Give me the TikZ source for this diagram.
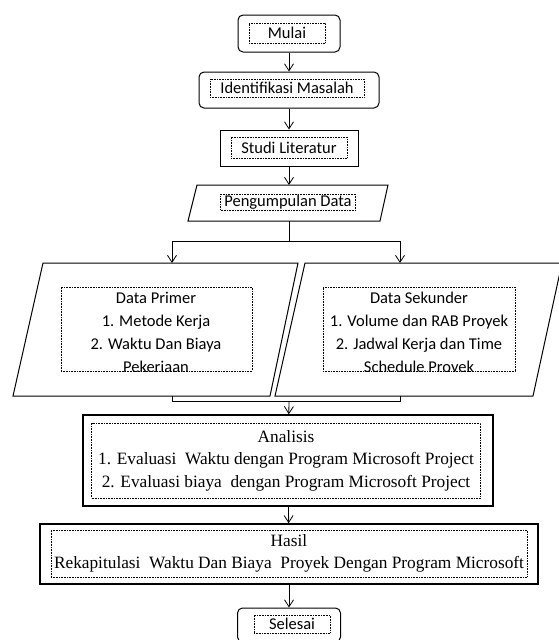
\documentclass[tikz,border=0pt]{standalone}
\usepackage{fontspec}
\setmainfont{Liberation Serif}
\newfontfamily\boxfont{Carlito}
\usetikzlibrary{arrows.meta}

\begin{document}
\begin{tikzpicture}[
		x=1pt, y=-1pt,
		arrow/.style={-{Straight Barb[length=7pt, width=9pt]}, line width=0.8pt},
		terminal/.style={draw, line width=1pt, rounded corners=5pt},
		process/.style={draw, line width=1pt},
		bigprocess/.style={draw, line width=1.6pt},
		io/.style={draw, line width=1pt, line join=miter},
		frame/.style={draw, densely dotted, line width=0.6pt, inner sep=0pt},
		sans text/.style={font=\boxfont\fontsize{16.5}{23}\selectfont, align=center},
		serif text/.style={font=\fontsize{17.3}{22.5}\selectfont, align=center}
		]
		\useasboundingbox (0,0) rectangle (559,640);
		
		% Nodes
		\node[terminal, minimum width=102, minimum height=37] (mulai) at (289,33.5) {};
		\node[frame, sans text, minimum width=76, minimum height=20] (mulai-t) at (287,33) {Mulai};
		
		\node[terminal, minimum width=180, minimum height=36] (identifikasi) at (289,90) {};
		\node[frame, sans text, minimum width=154, minimum height=18] (identifikasi-t) at (287,88) {Identifikasi Masalah};
		
		\node[process, minimum width=138, minimum height=36] (studi) at (289,148) {};
		\node[frame, sans text, minimum width=116, minimum height=21] (studi-t) at (289,147.5) {Studi Literatur};
		
		% Input/output parallelograms
		\draw[io] (197,185) coordinate (pengumpulan-in) -- (388,185) -- (380,221) -- (188,221) -- cycle;
		\node[frame, sans text, minimum width=135, minimum height=16] (pengumpulan-t) at (288,202) {Pengumpulan Data};
		
		\draw[io] (43,263) -- (298,263) -- (270,396) -- (13,396) -- cycle;
		\node[frame, minimum width=191, minimum height=84] (primer-t) at (156.5,329) {};
		\begin{scope}
			\clip (primer-t.north west) rectangle (primer-t.south east);
			\node[sans text] (primer-isi) at (156,334) {Data Primer\\1. Metode Kerja\\2. Waktu Dan Biaya\\Pekerjaan};
		\end{scope}
		
		\draw[io] (305,263) -- (562,263) -- (533,396) -- (275,396) -- cycle;
		\node[frame, minimum width=192, minimum height=84] (sekunder-t) at (419,329) {};
		\begin{scope}
			\clip (sekunder-t.north west) rectangle (sekunder-t.south east);
			\node[sans text] (sekunder-isi) at (419,334) {Data Sekunder\\1. Volume dan RAB Proyek\\2. Jadwal Kerja dan Time\\Schedule Proyek};
		\end{scope}
		
		\node[bigprocess, minimum width=410, minimum height=91] (analisis) at (288,460.5) {};
		\node[frame, serif text, minimum width=389, minimum height=75] (analisis-t) at (286,460.5)
			{Analisis\\1. Evaluasi\ \ Waktu dengan Program Microsoft Project\\2. Evaluasi biaya\ \ dengan Program Microsoft Project};
		
		\node[bigprocess, minimum width=498, minimum height=60] (hasil) at (289,554) {};
		\node[frame, serif text, minimum width=476, minimum height=47] (hasil-t) at (289,553.5)
			{Hasil\\Rekapitulasi\ \ Waktu Dan Biaya\ \ Proyek Dengan Program Microsoft};
		
		\node[terminal, minimum width=103, minimum height=34] (selesai) at (289,625) {};
		\node[frame, sans text, minimum width=76, minimum height=18] (selesai-t) at (292,624) {Selesai};
		
		% Split and join points
		\coordinate (pengumpulan-top) at (289,185);
		\coordinate (pengumpulan-bot) at (289,221);
		\coordinate (split) at (289,241);
		\coordinate (primer-in) at (172,263);
		\coordinate (sekunder-in) at (400,263);
		\coordinate (primer-out) at (172,396);
		\coordinate (sekunder-out) at (400,396);
		\coordinate (join) at (289,401);
		
		% Arrows
		\draw[arrow] (mulai) -- (identifikasi);
		\draw[arrow] (identifikasi) -- (studi);
		\draw[arrow] (studi) -- (pengumpulan-top);
		\draw[line width=0.8pt] (pengumpulan-bot) -- (split);
		\draw[arrow] (split) -| (primer-in);
		\draw[arrow] (split) -| (sekunder-in);
		\draw[line width=0.8pt] (primer-out) -- ++(0,5) -| (sekunder-out);
		\draw[arrow] (join) -- (analisis);
		\draw[arrow] (analisis) -- (hasil);
		\draw[arrow] (hasil) -- (selesai);
		
	\end{tikzpicture}
\end{document}
